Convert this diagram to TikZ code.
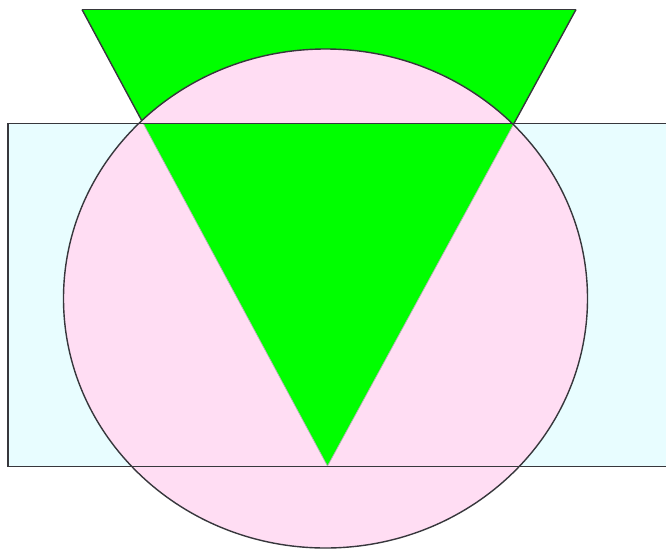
\documentclass[tikz,border=0pt]{standalone}
\definecolor{tgreen}{RGB}{0,255,0}
\definecolor{cpink}{RGB}{255,221,243}
\definecolor{rcyan}{RGB}{232,253,255}
\definecolor{edge}{RGB}{55,55,60}
\tikzset{
  outline/.style={draw=edge, line width=1.4pt},
}
\begin{document}
\begin{tikzpicture}[x=1pt,y=-1pt]
\useasboundingbox (0,0) rectangle (666,549);
% coordinates
\coordinate (A) at (82,9.5);
\coordinate (B) at (576,9.5);
\coordinate (C) at (327.5,466);
\coordinate (R1) at (8,123.5);
\coordinate (R2) at (680,466.5);
\coordinate (O) at (325.5,298.5);
% rectangle
\fill[rcyan] (R1) rectangle (R2);
% triangle (whole)
\fill[tgreen] (A) -- (B) -- (C) -- cycle;
\draw[outline] (A) -- (B);
\begin{scope}
  \clip (0,0) rectangle (666,123.5);
  \draw[outline] (B) -- (C) (A) -- (C);
\end{scope}
% circle
\fill[cpink] (O) ellipse [x radius=262, y radius=249.5];
% triangle inside rectangle
\begin{scope}
  \clip (R1) rectangle (R2);
  \fill[tgreen] (A) -- (B) -- (C) -- cycle;
  \draw[draw=gray!60, line width=0.7pt] (A) -- (C) -- (B);
\end{scope}
% circle outline
\draw[outline] (O) ellipse [x radius=262, y radius=249.5];
% rectangle outline (right side off the page)
\draw[outline] (680,123.5) -- (R1) |- (680,466.5);
\end{tikzpicture}
\end{document}
